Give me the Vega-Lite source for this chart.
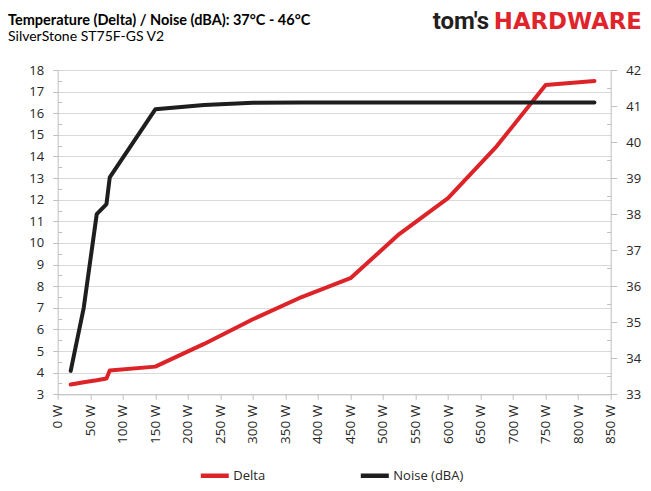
{
  "$schema": "https://vega.github.io/schema/vega-lite/v6.json",
  "width": 553,
  "height": 324.3,
  "autosize": {"type": "none"},
  "padding": {"left": 57.7, "top": 70, "right": 40.3, "bottom": 96.7},
  "background": "white",
  "title": {
    "text": "Temperature (Delta) / Noise (dBA): 37°C - 46°C",
    "subtitle": "SilverStone ST75F-GS V2",
    "anchor": "start",
    "frame": "group",
    "dx": -49.7,
    "offset": -35,
    "font": "Lato",
    "fontSize": 14.5,
    "fontWeight": "bold",
    "color": "#000000",
    "subtitleFont": "Lato",
    "subtitleFontSize": 14,
    "subtitleColor": "#000000",
    "subtitlePadding": 2
  },
  "config": {
    "view": {"stroke": null},
    "axis": {
      "labelFont": "Open Sans",
      "labelFontSize": 13,
      "labelColor": "#262626",
      "domainColor": "#bfbfbf",
      "tickColor": "#bfbfbf",
      "gridColor": "#d9d9d9",
      "labelOverlap": false,
      "labelBound": false
    },
    "legend": {
      "orient": "none",
      "legendX": 140.6,
      "legendY": 389,
      "direction": "horizontal",
      "title": null,
      "symbolType": "stroke",
      "symbolSize": 784,
      "symbolStrokeWidth": 4.5,
      "labelFont": "Open Sans",
      "labelFontSize": 13,
      "labelColor": "#262626",
      "labelOffset": 2,
      "columnPadding": 86
    }
  },
  "data": {
    "values": [
      {"load": 20, "Delta": 3.45, "Noise": 33.65},
      {"load": 40, "Delta": 3.56, "Noise": 35.4},
      {"load": 60, "Delta": 3.65, "Noise": 38.0},
      {"load": 75, "Delta": 3.73, "Noise": 38.28},
      {"load": 80, "Delta": 4.1, "Noise": 39.02},
      {"load": 150, "Delta": 4.28, "Noise": 40.91},
      {"load": 225, "Delta": 5.33, "Noise": 41.03},
      {"load": 300, "Delta": 6.47, "Noise": 41.09},
      {"load": 375, "Delta": 7.5, "Noise": 41.1},
      {"load": 450, "Delta": 8.37, "Noise": 41.1},
      {"load": 525, "Delta": 10.41, "Noise": 41.1},
      {"load": 600, "Delta": 12.07, "Noise": 41.1},
      {"load": 675, "Delta": 14.48, "Noise": 41.1},
      {"load": 750, "Delta": 17.31, "Noise": 41.1},
      {"load": 825, "Delta": 17.49, "Noise": 41.1}
    ]
  },
  "resolve": {"scale": {"y": "independent"}},
  "layer": [
    {
      "mark": {"type": "line", "strokeWidth": 4, "strokeCap": "round", "strokeJoin": "round"},
      "encoding": {
        "x": {
          "field": "load",
          "type": "quantitative",
          "scale": {"domain": [0, 850], "nice": false, "zero": false},
          "axis": {
            "values": [0, 50, 100, 150, 200, 250, 300, 350, 400, 450, 500, 550, 600, 650, 700, 750, 800, 850],
            "labelExpr": "datum.value + ' W'",
            "labelAngle": -90,
            "labelPadding": 5,
            "labelFontSize": 13.5,
            "labelOverlap": false,
            "labelFlush": false,
            "tickSize": 5,
            "grid": false,
            "title": null
          }
        },
        "y": {
          "field": "Delta",
          "type": "quantitative",
          "scale": {"domain": [3, 18], "nice": false, "zero": false},
          "axis": {
            "orient": "left",
            "values": [3, 4, 5, 6, 7, 8, 9, 10, 11, 12, 13, 14, 15, 16, 17, 18],
            "grid": true,
            "tickSize": 5,
            "labelPadding": 9,
            "labelOverlap": false,
            "title": null
          }
        },
        "color": {
          "datum": "Delta",
          "type": "nominal",
          "scale": {"domain": ["Delta", "Noise (dBA)"], "range": ["#dc2328", "#1e1e1e"]}
        }
      }
    },
    {
      "mark": {"type": "line", "strokeWidth": 4, "strokeCap": "round", "strokeJoin": "round"},
      "encoding": {
        "x": {
          "field": "load",
          "type": "quantitative",
          "scale": {"domain": [0, 850], "nice": false, "zero": false},
          "axis": {
            "values": [0, 50, 100, 150, 200, 250, 300, 350, 400, 450, 500, 550, 600, 650, 700, 750, 800, 850],
            "labelExpr": "datum.value + ' W'",
            "labelAngle": -90,
            "labelPadding": 5,
            "labelFontSize": 13.5,
            "labelOverlap": false,
            "labelFlush": false,
            "tickSize": 5,
            "grid": false,
            "title": null
          }
        },
        "y": {
          "field": "Noise",
          "type": "quantitative",
          "scale": {"domain": [33, 42], "nice": false, "zero": false},
          "axis": {
            "orient": "right",
            "values": [33, 34, 35, 36, 37, 38, 39, 40, 41, 42],
            "grid": false,
            "tickSize": 6,
            "labelPadding": 9,
            "labelOverlap": false,
            "title": null
          }
        },
        "color": {"datum": "Noise (dBA)", "type": "nominal"}
      }
    },
    {
      "data": {"values": [{"logo": "tom's"}]},
      "mark": {"type": "text", "align": "right", "baseline": "alphabetic", "font": "Roboto", "fontWeight": "bold", "fontSize": 24, "color": "#231f20"},
      "encoding": {
        "x": {
          "datum": 662.9,
          "type": "quantitative",
          "scale": {"domain": [0, 850], "nice": false, "zero": false},
          "axis": {
            "values": [0, 50, 100, 150, 200, 250, 300, 350, 400, 450, 500, 550, 600, 650, 700, 750, 800, 850],
            "labelExpr": "datum.value + ' W'",
            "labelAngle": -90,
            "labelPadding": 5,
            "labelFontSize": 13.5,
            "labelOverlap": false,
            "labelFlush": false,
            "tickSize": 5,
            "grid": false,
            "title": null
          }
        },
        "y": {
          "datum": 19.88,
          "type": "quantitative",
          "scale": {"domain": [3, 18], "nice": false, "zero": false},
          "axis": {
            "orient": "left",
            "values": [3.5, 4.5, 5.5, 6.5, 7.5, 8.5, 9.5, 10.5, 11.5, 12.5, 13.5, 14.5, 15.5, 16.5, 17.5],
            "tickSize": -4,
            "labels": false,
            "domain": false,
            "grid": false,
            "title": null
          }
        },
        "text": {"field": "logo"}
      }
    },
    {
      "data": {"values": [{"logo": "HARDWARE"}]},
      "mark": {"type": "text", "align": "right", "baseline": "alphabetic", "font": "DejaVu Sans", "fontWeight": "bold", "fontSize": 22.8, "color": "#e0242b"},
      "encoding": {
        "x": {
          "datum": 898,
          "type": "quantitative",
          "scale": {"domain": [0, 850], "nice": false, "zero": false},
          "axis": {
            "values": [0, 50, 100, 150, 200, 250, 300, 350, 400, 450, 500, 550, 600, 650, 700, 750, 800, 850],
            "labelExpr": "datum.value + ' W'",
            "labelAngle": -90,
            "labelPadding": 5,
            "labelFontSize": 13.5,
            "labelOverlap": false,
            "labelFlush": false,
            "tickSize": 5,
            "grid": false,
            "title": null
          }
        },
        "y": {
          "datum": 43.13,
          "type": "quantitative",
          "scale": {"domain": [33, 42], "nice": false, "zero": false},
          "axis": {
            "orient": "right",
            "values": [33.5, 34.5, 35.5, 36.5, 37.5, 38.5, 39.5, 40.5, 41.5],
            "tickSize": -4,
            "labels": false,
            "domain": false,
            "grid": false,
            "title": null
          }
        },
        "text": {"field": "logo"}
      }
    }
  ]
}
